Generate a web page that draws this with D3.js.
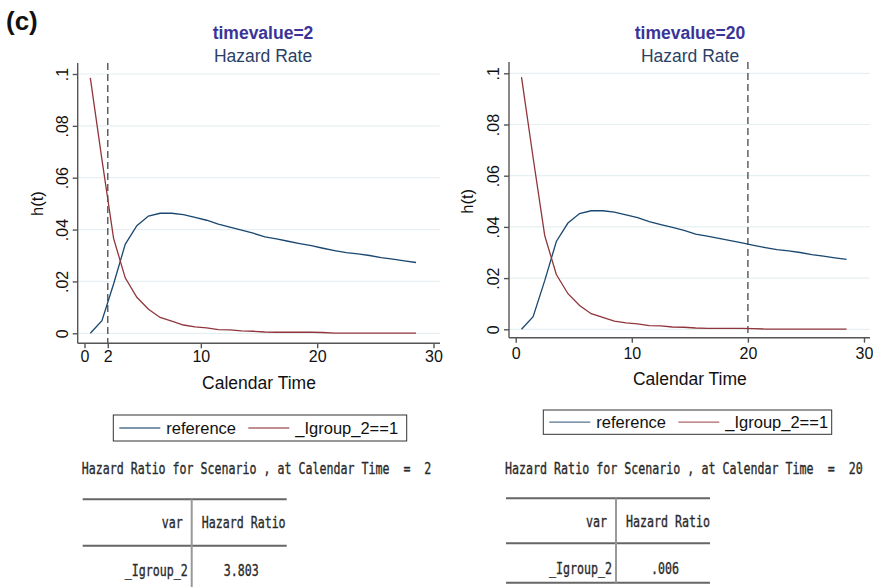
<!DOCTYPE html>
<html>
<head>
<meta charset="utf-8">
<script src="https://cdn.jsdelivr.net/npm/d3@7"></script>
<style>
  body { margin: 0; background: #fff; }
  svg { display: block; }
  text { font-family: Arial, "Liberation Sans", Helvetica, sans-serif; }
  text.mono { font-family: "DejaVu Sans Mono", "Liberation Mono", monospace; }
</style>
</head>
<body>
<svg id="chart" width="873" height="587"></svg>
<script>
// --- Data ---
const calendarTime = [0.5, 1.5, 2.5, 3.5, 4.5, 5.5, 6.5, 7.5, 8.5, 9.5, 10.5, 11.5, 12.5, 13.5, 14.5,
  15.5, 16.5, 17.5, 18.5, 19.5, 20.5, 21.5, 22.5, 23.5, 24.5, 25.5, 26.5, 27.5, 28.5];
const referenceHazard = [0, 0.0049, 0.019, 0.0343, 0.0415, 0.0452, 0.0463, 0.0463, 0.0458, 0.0447,
  0.0436, 0.0421, 0.0409, 0.0398, 0.0386, 0.0372, 0.0364, 0.0355, 0.0346, 0.0338,
  0.0328, 0.0319, 0.0311, 0.0306, 0.0300, 0.0292, 0.0286, 0.0279, 0.0273];
const groupHazard = [0.0985, 0.067, 0.0366, 0.0214, 0.0139, 0.0093, 0.0061, 0.0047, 0.0032, 0.0025,
  0.0021, 0.0014, 0.0013, 0.0009, 0.0008, 0.0005, 0.0004, 0.0004, 0.0004, 0.0004,
  0.0003, 0.0001, 0.0001, 0.0001, 0.0001, 0.0001, 0.0001, 0.0001, 0.0001];
const seriesNames = ["reference", "_Igroup_2==1"];
const timeValues = [2, 20];
const hazardRatios = ["3.803", ".006"];
const xTickSets = [[0, 2, 10, 20, 30], [0, 10, 20, 30]];
const yTickValues = [0, 0.02, 0.04, 0.06, 0.08, 0.1];

// --- Layout (pixel positions per panel) ---
const layouts = [
  { yAxisX: 77.7, xAxisY: 343.3, x0: 84.5, x30: 433.5, yLo: 333.3, yHi: 74, top: 63, right: 440,
    titleX: 263, xTickY: 356, xLabelY: 389, yLabelX: 43, legend: [113.3, 415, 406.7, 441],
    table: { left: 82.7, right: 286.7, split: 191.7, titleX: 81.7, titleW: 350, titleY: 474,
             top: 499.3, headY: 528, mid: 545.7, rowY: 576, bottom: 593 } },
  { yAxisX: 509, xAxisY: 337.7, x0: 515.7, x30: 864, yLo: 329.3, yHi: 73.3, top: 62, right: 870,
    titleX: 690, xTickY: 353, xLabelY: 385, yLabelX: 473, legend: [543.3, 410, 831.7, 434.3],
    table: { left: 506, right: 710, split: 616, titleX: 505, titleW: 358, titleY: 474,
             top: 498.3, headY: 527, mid: 543.3, rowY: 574, bottom: 582.7 } }
];

const blue = "#1a476f", red = "#90353b";
const svg = d3.select("#chart");
svg.append("rect").attr("width", 873).attr("height", 587).attr("fill", "#fff");

svg.append("text").attr("x", 6).attr("y", 30)
  .attr("font-size", 26).attr("font-weight", "bold").attr("fill", "#111").text("(c)");

const charW = 7;

layouts.forEach((L, i) => {
  const g = svg.append("g");
  const x = d3.scaleLinear().domain([0, 30]).range([L.x0, L.x30]);
  const y = d3.scaleLinear().domain([0, 0.1]).range([L.yLo, L.yHi]);

  // titles
  g.append("text").attr("x", L.titleX).attr("y", 39).attr("text-anchor", "middle")
    .attr("font-size", 17.5).attr("font-weight", "bold").attr("fill", "#3a3499")
    .text(`timevalue=${timeValues[i]}`);
  g.append("text").attr("x", L.titleX).attr("y", 62).attr("text-anchor", "middle")
    .attr("font-size", 17.5).attr("fill", "#2b3f66").text("Hazard Rate");

  // gridlines
  g.append("g").selectAll("line").data(yTickValues).join("line")
    .attr("x1", L.yAxisX).attr("x2", L.right)
    .attr("y1", d => y(d)).attr("y2", d => y(d))
    .attr("stroke", "#e6eff1").attr("stroke-width", 1.2);

  // axes
  const yAxis = g.append("g").attr("transform", `translate(${L.yAxisX},0)`)
    .call(d3.axisLeft(y).tickValues(yTickValues).tickSize(5).tickSizeOuter(0)
      .tickFormat(d => d === 0 ? "0" : d3.format(".2~f")(d).replace(/^0/, "")));
  yAxis.select(".domain").attr("d", `M0,${L.top}V${L.xAxisY}`);
  yAxis.selectAll(".domain, .tick line").attr("stroke", "#555").attr("stroke-width", 1.4);
  yAxis.selectAll(".tick text").attr("transform", "rotate(-90)")
    .attr("x", 0).attr("y", -10).attr("dy", 0).attr("text-anchor", "middle")
    .attr("font-size", 16).attr("font-family", null).attr("fill", "#111");

  const xAxis = g.append("g").attr("transform", `translate(0,${L.xAxisY})`)
    .call(d3.axisBottom(x).tickValues(xTickSets[i]).tickSize(5).tickSizeOuter(0).tickFormat(d3.format("d")));
  xAxis.select(".domain").attr("d", `M${L.yAxisX},0H${L.right}`);
  xAxis.selectAll(".domain, .tick line").attr("stroke", "#555").attr("stroke-width", 1.4);
  xAxis.selectAll(".tick text").attr("y", L.xTickY - L.xAxisY).attr("dy", "0.35em")
    .attr("font-size", 16).attr("font-family", null).attr("fill", "#111");

  g.append("text").attr("x", (L.x0 + L.x30) / 2).attr("y", L.xLabelY).attr("text-anchor", "middle")
    .attr("font-size", 17.5).attr("fill", "#111").text("Calendar Time");
  g.append("text").attr("transform", `translate(${L.yLabelX},${(L.yLo + L.yHi) / 2}) rotate(-90)`)
    .attr("text-anchor", "middle").attr("font-size", 16.5).attr("fill", "#111").text("h(t)");

  // dashed reference time line
  g.append("line").attr("x1", x(timeValues[i])).attr("x2", x(timeValues[i]))
    .attr("y1", L.top).attr("y2", L.xAxisY)
    .attr("stroke", "#555").attr("stroke-width", 1.4).attr("stroke-dasharray", "7,4");

  // series lines
  const line = d3.line().x(d => x(d[0])).y(d => y(d[1]));
  [[referenceHazard, blue], [groupHazard, red]].forEach(([vals, col]) => {
    g.append("path").datum(d3.zip(calendarTime, vals)).attr("d", line)
      .attr("fill", "none").attr("stroke", col).attr("stroke-width", 1.3);
  });

  // legend
  const [lx1, ly1, lx2, ly2] = L.legend;
  const ly = (ly1 + ly2) / 2;
  g.append("rect").attr("x", lx1).attr("y", ly1).attr("width", lx2 - lx1).attr("height", ly2 - ly1)
    .attr("fill", "#fff").attr("stroke", "#333").attr("stroke-width", 1);
  const legendItems = [[blue, lx1 + 6, seriesNames[0]], [red, lx1 + 135, seriesNames[1]]];
  legendItems.forEach(([col, sx, name]) => {
    g.append("line").attr("x1", sx).attr("x2", sx + 41).attr("y1", ly).attr("y2", ly)
      .attr("stroke", col).attr("stroke-width", 1.3).attr("opacity", 0.75);
    g.append("text").attr("x", sx + 47).attr("y", ly).attr("dy", "0.35em")
      .attr("font-size", 16.5).attr("fill", "#111").text(name);
  });

  // hazard ratio table (condensed monospace text, squeezed horizontally to fit)
  const T = L.table;
  const tt = (str, x0, yb, w) => {
    const t = g.append("text").attr("class", "mono")
      .attr("font-size", 15.5).attr("fill", "#2a2a2a")
      .attr("stroke", "#2a2a2a").attr("stroke-width", 0.35)
      .style("white-space", "pre").text(str);
    const natural = t.node().getComputedTextLength();
    const sx = (w || str.length * charW) / natural;
    t.attr("transform", `translate(${x0},${yb}) scale(${sx},1)`);
    return t;
  };

  tt(`Hazard Ratio for Scenario , at Calendar Time  =  ${timeValues[i]}`, T.titleX, T.titleY, T.titleW);

  [T.top, T.mid, T.bottom].forEach(yy => {
    g.append("line").attr("x1", T.left).attr("x2", T.right).attr("y1", yy).attr("y2", yy)
      .attr("stroke", "#666").attr("stroke-width", 2);
  });
  g.append("line").attr("x1", T.split).attr("x2", T.split).attr("y1", T.top).attr("y2", T.bottom)
    .attr("stroke", "#999").attr("stroke-width", 2);

  tt("var", T.split - 9 - 3 * charW, T.headY);
  tt("Hazard Ratio", T.split + 10, T.headY);
  tt("_Igroup_2", T.split - 4 - 9 * charW, T.rowY);
  const v = hazardRatios[i];
  tt(v, (T.split + T.right) / 2 + 2 - v.length * charW / 2, T.rowY);
});
</script>
</body>
</html>
